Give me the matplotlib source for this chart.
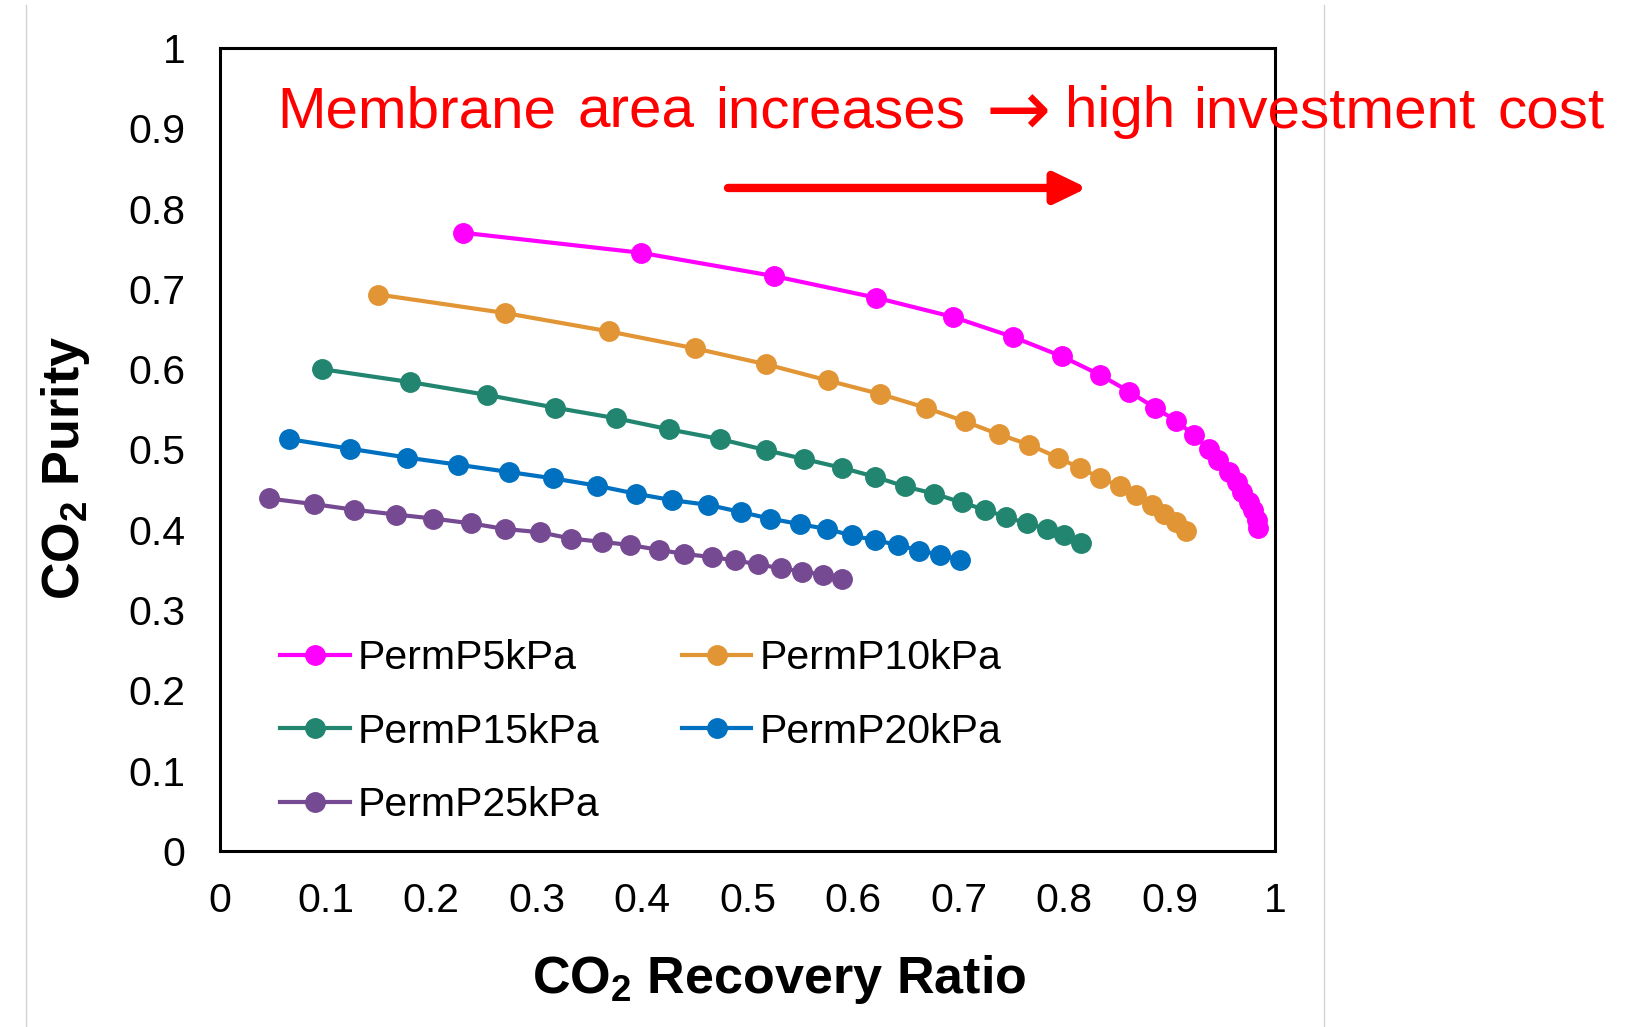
import matplotlib
matplotlib.use("Agg")
import matplotlib.pyplot as plt
from matplotlib.lines import Line2D

plt.rcParams['font.family'] = ['Liberation Sans', 'DejaVu Sans']
plt.rcParams['mathtext.fontset'] = 'custom'
plt.rcParams['mathtext.rm'] = 'Liberation Sans'
plt.rcParams['mathtext.bf'] = 'Liberation Sans:bold'

# CO2 recovery ratio / purity for each permeate pressure
x_p5 = [0.230, 0.399, 0.525, 0.622, 0.695, 0.752, 0.798, 0.834, 0.862, 0.886,
        0.906, 0.923, 0.937, 0.946, 0.956, 0.964, 0.969, 0.975, 0.979, 0.983, 0.984]
y_p5 = [0.770, 0.745, 0.716, 0.689, 0.665, 0.640, 0.616, 0.593, 0.572, 0.552,
        0.536, 0.518, 0.501, 0.487, 0.472, 0.460, 0.447, 0.435, 0.425, 0.412, 0.402]

x_p10 = [0.150, 0.270, 0.369, 0.450, 0.518, 0.576, 0.626, 0.669, 0.706, 0.738,
         0.767, 0.794, 0.815, 0.834, 0.853, 0.868, 0.883, 0.895, 0.906, 0.916]
y_p10 = [0.693, 0.670, 0.647, 0.626, 0.606, 0.586, 0.569, 0.552, 0.535, 0.519,
         0.506, 0.490, 0.477, 0.465, 0.454, 0.443, 0.431, 0.420, 0.410, 0.398]

x_p15 = [0.097, 0.180, 0.253, 0.318, 0.375, 0.426, 0.474, 0.518, 0.554, 0.590,
         0.621, 0.649, 0.677, 0.703, 0.725, 0.745, 0.765, 0.784, 0.800, 0.816]
y_p15 = [0.600, 0.584, 0.568, 0.552, 0.539, 0.525, 0.513, 0.499, 0.488, 0.477,
         0.466, 0.454, 0.445, 0.434, 0.425, 0.416, 0.408, 0.401, 0.393, 0.383]

x_p20 = [0.065, 0.123, 0.177, 0.226, 0.274, 0.316, 0.357, 0.394, 0.428, 0.463,
         0.494, 0.521, 0.550, 0.575, 0.599, 0.621, 0.643, 0.663, 0.682, 0.701]
y_p20 = [0.513, 0.501, 0.490, 0.481, 0.472, 0.464, 0.455, 0.445, 0.437, 0.431,
         0.422, 0.414, 0.407, 0.401, 0.393, 0.387, 0.381, 0.374, 0.369, 0.363]

x_p25 = [0.046, 0.089, 0.127, 0.167, 0.202, 0.238, 0.270, 0.303, 0.333, 0.362,
         0.389, 0.416, 0.440, 0.466, 0.488, 0.510, 0.532, 0.552, 0.572, 0.590]
y_p25 = [0.439, 0.432, 0.425, 0.419, 0.414, 0.408, 0.401, 0.397, 0.389, 0.385,
         0.381, 0.375, 0.370, 0.366, 0.362, 0.357, 0.352, 0.348, 0.344, 0.339]

labels = ['PermP5kPa', 'PermP10kPa', 'PermP15kPa', 'PermP20kPa', 'PermP25kPa']
colors = ['#FF00FF', '#E29535', '#218570', '#0070C0', '#764A92']
xs = [x_p5, x_p10, x_p15, x_p20, x_p25]
ys = [y_p5, y_p10, y_p15, y_p20, y_p25]

ticks = [0, 0.1, 0.2, 0.3, 0.4, 0.5, 0.6, 0.7, 0.8, 0.9, 1]
tick_labels = ['0', '0.1', '0.2', '0.3', '0.4', '0.5', '0.6', '0.7', '0.8', '0.9', '1']

# annotation words (justified in the original slide), left edge in pixels
note_words = ['Membrane', 'area', 'increases', 'high', 'investment', 'cost']
note_left_px = [277, 578, 715, 1065, 1193, 1497]

W, H = 1641, 1027
fig = plt.figure(figsize=(W / 100, H / 100), dpi=100)
ax = fig.add_axes([220 / W, 1 - 851 / H, 1055 / W, 803 / H])

lines = []
for xv, yv, lab, c in zip(xs, ys, labels, colors):
    ln, = ax.plot(xv, yv, '-o', color=c, lw=3, markersize=14, label=lab)
    lines.append(ln)

ax.set_xlim(0, 1)
ax.set_ylim(0, 1)
ax.set_xticks(ticks)
ax.set_xticklabels(tick_labels)
ax.set_yticks(ticks)
ax.set_yticklabels(tick_labels)
ax.tick_params(axis='both', length=0, labelsize=29.5)
ax.tick_params(axis='x', pad=22)
ax.tick_params(axis='y', pad=25)
for sp in ax.spines.values():
    sp.set_linewidth(2.2)

# legend: column 1 = 5, 15, 25 ; column 2 = 10, 20
order = [0, 2, 4, 1, 3]
ax.legend([lines[i] for i in order], [labels[i] for i in order], ncol=2,
          loc='upper left', bbox_to_anchor=(0.057, 0.264), frameon=False,
          fontsize=29.5, borderpad=0, borderaxespad=0, handlelength=1.7,
          handletextpad=0.2, columnspacing=2.0, labelspacing=0.87)

for word, px in zip(note_words, note_left_px):
    fig.text(px / W, 1 - 127 / H, word, color='red', fontsize=42,
             ha='left', va='baseline')
# the arrow sign, larger like the slide font
fig.text(1018 / W, 1 - 106 / H, '\u2192', color='red', fontsize=56,
         family=['DejaVu Sans'], ha='center', va='center_baseline')

ax.annotate('', xy=(0.822, 0.8257), xytext=(0.4815, 0.8257),
            xycoords='axes fraction', textcoords='axes fraction',
            arrowprops=dict(arrowstyle='-|>,head_length=0.97,head_width=0.47',
                            mutation_scale=20, lw=6, color='red',
                            shrinkA=0, shrinkB=0))

fig.text(779 / W, 1 - 979 / H, 'CO$_\\mathbf{2}$ Recovery Ratio',
         fontsize=37.5, fontweight='bold', ha='center', va='center')
fig.text(66 / W, 1 - 468 / H, 'CO$_\\mathbf{2}$ Purity',
         fontsize=37.5, fontweight='bold', ha='center', va='center', rotation=90)

# slide border lines
fig.add_artist(Line2D([26 / W, 26 / W], [0, 1 - 5 / H],
                      transform=fig.transFigure, color='#d4d4d4', lw=1))
fig.add_artist(Line2D([1324 / W, 1324 / W], [0, 1 - 5 / H],
                      transform=fig.transFigure, color='#d4d4d4', lw=1))

plt.savefig('out.png', dpi=100)
